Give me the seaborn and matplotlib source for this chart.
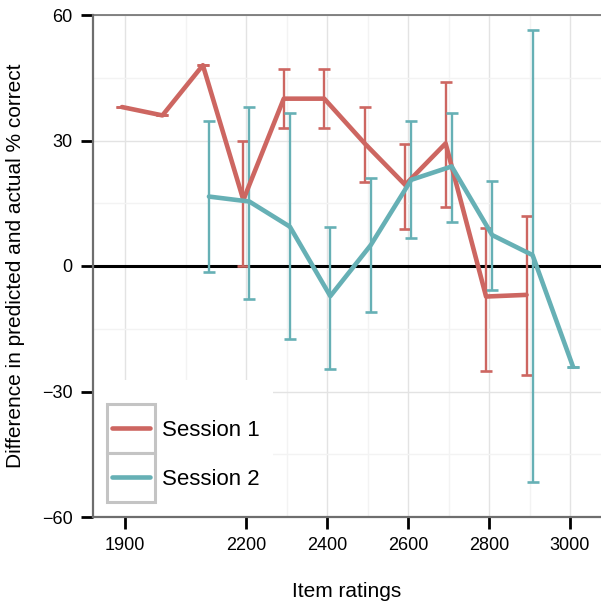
import matplotlib
matplotlib.use("Agg")
import matplotlib.pyplot as plt
import seaborn as sns
import pandas as pd
import numpy as np
from matplotlib.patches import Rectangle
from matplotlib.lines import Line2D

# ---- data ----
s1_ratings = [1900, 2000, 2100, 2200, 2300, 2400, 2500, 2600, 2700, 2800, 2900]
s1_mean = [38.0, 36.0, 48.0, 15.8, 40.0, 40.0, 29.3, 19.4, 29.3, -7.3, -6.9]
s1_low = [38.0, 36.0, 48.0, 0.0, 33.0, 33.0, 20.0, 8.9, 14.0, -25.0, -26.0]
s1_high = [38.0, 36.0, 48.0, 30.0, 47.0, 47.0, 38.0, 29.1, 44.0, 9.0, 12.0]

s2_ratings = [2100, 2200, 2300, 2400, 2500, 2600, 2700, 2800, 2900, 3000]
s2_mean = [16.6, 15.4, 9.4, -7.2, 5.0, 20.6, 23.8, 7.4, 2.6, -24.1]
s2_low = [-1.4, -8.0, -17.5, -24.6, -11.1, 6.6, 10.5, -5.7, -51.7, -24.1]
s2_high = [34.7, 38.0, 36.5, 9.4, 21.0, 34.7, 36.5, 20.2, 56.3, -24.1]

sessions = ["Session 1", "Session 2"]
x_ticks = [1900, 2200, 2400, 2600, 2800, 3000]
y_ticks = [-60, -30, 0, 30, 60]

RED = "#CD6661"
TEAL = "#66B0B5"
colors = {"Session 1": RED, "Session 2": TEAL}
dodge = {"Session 1": -7.5, "Session 2": 7.5}

df = pd.concat([
    pd.DataFrame({"rating": s1_ratings, "mean": s1_mean, "low": s1_low,
                  "high": s1_high, "session": sessions[0]}),
    pd.DataFrame({"rating": s2_ratings, "mean": s2_mean, "low": s2_low,
                  "high": s2_high, "session": sessions[1]}),
], ignore_index=True)
df["xpos"] = df["rating"] + df["session"].map(dodge)

sns.set_theme(style="white")
plt.rcParams["font.family"] = ["Liberation Sans", "DejaVu Sans"]
plt.rcParams["text.color"] = "black"

W, H = 601, 602
fig = plt.figure(figsize=(W / 100, H / 100), dpi=100)
L, R, T, B = 93, 601, 15, 517
ax = fig.add_axes([L / W, 1 - B / H, (R - L) / W, (B - T) / H])

# grid
ax.set_axisbelow(True)
ax.set_xticks(x_ticks)
ax.set_xticks([2050, 2300, 2500, 2700, 2900], minor=True)
ax.set_yticks(y_ticks)
ax.set_yticks([-45, -15, 15, 45], minor=True)
ax.grid(True, which="major", color="#e3e3e3", linewidth=1.0)
ax.grid(True, which="minor", color="#f3f3f3", linewidth=1.0)

ax.axhline(0, color="black", linewidth=2.2, zorder=1.2)

# error bars
for s in sessions:
    d = df[df["session"] == s]
    ax.errorbar(d["xpos"], d["mean"],
                yerr=[d["mean"] - d["low"], d["high"] - d["mean"]],
                fmt="none", ecolor=colors[s], elinewidth=1.7,
                capsize=4.0, capthick=1.9, zorder=2)

sns.lineplot(data=df, x="xpos", y="mean", hue="session", palette=colors,
             linewidth=3.3, ax=ax, legend=False, zorder=3, sort=True,
             estimator=None)

ax.set_xlim(1820.9, 3076.6)
ax.set_ylim(-60, 60)

# spines
for side in ["left", "bottom", "top"]:
    ax.spines[side].set_visible(True)
    ax.spines[side].set_color("#6e6e6e")
ax.spines["left"].set_linewidth(1.6)
ax.spines["bottom"].set_linewidth(1.6)
ax.spines["top"].set_linewidth(1.2)
ax.spines["right"].set_visible(False)

ax.tick_params(axis="both", which="major", length=8.5, width=2.0,
               color="black", labelsize=13, labelcolor="black", pad=6,
               left=True, bottom=True)
ax.tick_params(axis="both", which="minor", length=0)

ax.set_xlabel("Item ratings", fontsize=15, labelpad=20, color="black")
ax.set_ylabel("Difference in predicted and actual % correct", fontsize=15,
              labelpad=12, color="black")

# legend background and key boxes
def ax_frac(px, py):
    return (px - L) / (R - L), (B - py) / (B - T)

x0, y0 = ax_frac(93, 517)
x1, y1 = ax_frac(273, 380)
ax.add_patch(Rectangle((x0, y0), x1 - x0, y1 - y0, transform=ax.transAxes,
                       facecolor="white", edgecolor="none", zorder=1.5))
for top, bot in [(404, 453), (453, 502)]:
    kx0, ky0 = ax_frac(106.5, bot)
    kx1, ky1 = ax_frac(155, top)
    ax.add_patch(Rectangle((kx0, ky0), kx1 - kx0, ky1 - ky0,
                           transform=ax.transAxes, facecolor="white",
                           edgecolor="#c4c4c4", linewidth=2.2, zorder=4))

handles = [Line2D([0], [0], color=colors[s], linewidth=3.3) for s in sessions]
lx, ly = ax_frac(112, 455)
leg = ax.legend(handles, sessions, loc="center left", bbox_to_anchor=(lx, ly),
                frameon=False, fontsize=16, handlelength=1.72,
                handletextpad=0.55, labelspacing=1.24, borderpad=0.0,
                borderaxespad=0.0, labelcolor="black")
leg.set_zorder(5)

fig.savefig("out.png", dpi=100)
